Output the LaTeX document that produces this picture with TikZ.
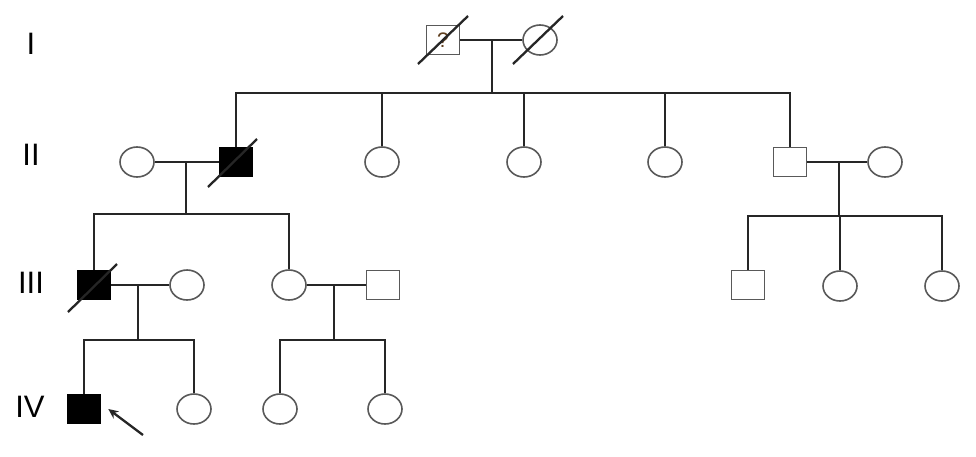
\documentclass[tikz,border=0pt]{standalone}
\usepackage{fontspec}
\setmainfont{Liberation Sans}
\usetikzlibrary{shapes.geometric,arrows.meta,calc}
\begin{document}
\begin{tikzpicture}[x=1pt,y=-1pt,
  male/.style={rectangle,draw=black!65,line width=1.6pt,minimum width=33pt,minimum height=29pt,inner sep=0pt,fill=white},
  female/.style={ellipse,draw=black!65,line width=1.6pt,minimum width=34pt,minimum height=30pt,inner sep=0pt,fill=white},
  affected/.style={fill=black,draw=black},
  link/.style={draw=black!85,line width=2.6pt},
  gen/.style={font=\fontsize{31}{31}\selectfont,anchor=center,inner sep=0pt},
  dead/.style={draw=black!85,line width=2.3pt}
]
\useasboundingbox (0,0) rectangle (976,456);
% generation labels
\node[gen] (gI) at (31,44) {I};
\node[gen] (gII) at (31,155) {II};
\node[gen] (gIII) at (31,283) {III};
\node[gen] (gIV) at (30,407) {IV};

% marriage midpoints and sibship points
\coordinate (m1) at (492,40);  \coordinate (d1) at (492,93);
\coordinate (m2) at (186,162); \coordinate (d2) at (186,214);
\coordinate (m3) at (839,162); \coordinate (d3) at (839,216);
\coordinate (m4) at (138,285); \coordinate (d4) at (138,340);
\coordinate (m5) at (334,285); \coordinate (d5) at (334,340);

% Generation I
\node[male] (i1) at (443,40) {\fontsize{21}{21}\selectfont\color{brown!50!black}?};
\node[female] (i2) at (540,40) {};
% Generation II
\node[female] (ii1) at (137,162) {};
\node[male,affected] (ii2) at (236,162) {};
\node[female] (ii3) at (382,162) {};
\node[female] (ii4) at (524,162) {};
\node[female] (ii5) at (665,162) {};
\node[male] (ii6) at (790,162) {};
\node[female] (ii7) at (885,162) {};
% Generation III
\node[male,affected] (iii1) at (94,285) {};
\node[female] (iii2) at (187,285) {};
\node[female] (iii3) at (289,285) {};
\node[male] (iii4) at (383,285) {};
\node[male] (iii5) at (748,285) {};
\node[female] (iii6) at (840,286) {};
\node[female] (iii7) at (942,286) {};
% Generation IV
\node[male,affected] (iv1) at (84,409) {};
\node[female] (iv2) at (194,409) {};
\node[female] (iv3) at (280,409) {};
\node[female] (iv4) at (385,409) {};

% marriages
\draw[link] (i1.east) -- (i2.west);
\draw[link] (ii1.east) -- (ii2.west);
\draw[link] (ii6.east) -- (ii7.west);
\draw[link] (iii1.east) -- (iii2.west);
\draw[link] (iii3.east) -- (iii4.west);
% descents
\draw[link] (m1) -- (d1);
\draw[link] (m2) -- (d2);
\draw[link] (m3) -- (d3);
\draw[link] (m4) -- (d4);
\draw[link] (m5) -- (d5);
% sibships
\draw[link] (ii2.north) |- (d1) -| (ii6.north);
\draw[link] (ii3.north) -- (ii3.north |- d1);
\draw[link] (ii4.north) -- (ii4.north |- d1);
\draw[link] (ii5.north) -- (ii5.north |- d1);
\draw[link] (iii1.north) |- (d2) -| (iii3.north);
\draw[link] (iii5.north) |- (d3) -| (iii7.north);
\draw[link] (iii6.north) -- (iii6.north |- d3);
\draw[link] (iv1.north) |- (d4) -| (iv2.north);
\draw[link] (iv3.north) |- (d5) -| (iv4.north);

% deceased slashes
\draw[dead] ($(i1)+(-25,24)$) -- ($(i1)+(25,-24)$);
\draw[dead] ($(i2)+(-27,24)$) -- ($(i2)+(23,-24)$);
\draw[dead] ($(ii2)+(-28,25)$) -- ($(ii2)+(21,-23)$);
\draw[dead] ($(iii1)+(-26,27)$) -- ($(iii1)+(23,-21)$);

% proband arrow
\coordinate (pa) at (143,435);
\draw[link,line width=2.3pt,-{Stealth[length=10pt,width=9pt]}] (pa) -- ($(iv1.east)+(7,0)$);
\end{tikzpicture}
\end{document}
